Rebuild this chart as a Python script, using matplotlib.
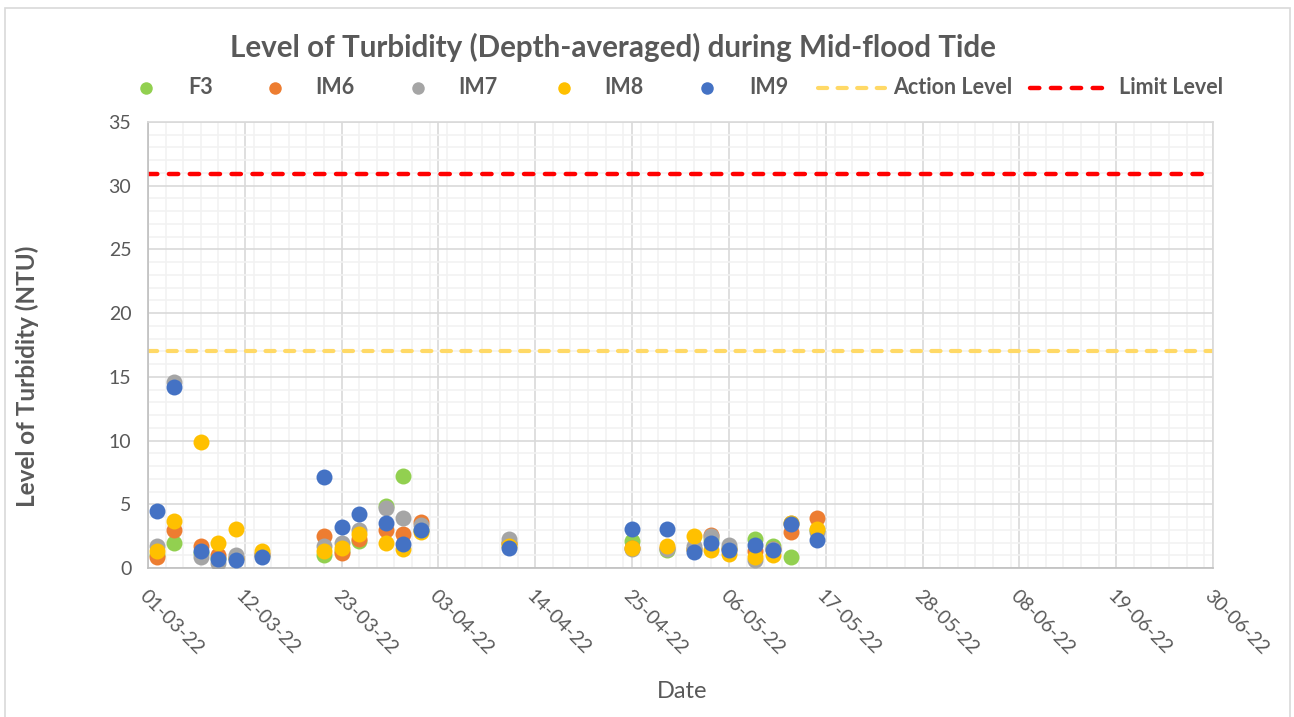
import matplotlib
matplotlib.use("Agg")
import matplotlib.pyplot as plt
import matplotlib.dates as mdates
from matplotlib.lines import Line2D
from matplotlib.patches import Rectangle
import numpy as np
import datetime as dt

plt.rcParams['font.family'] = ['Lato', 'DejaVu Sans']

dates = ["2022-03-02", "2022-03-04", "2022-03-07", "2022-03-09", "2022-03-11", "2022-03-14",
         "2022-03-21", "2022-03-23", "2022-03-25", "2022-03-28", "2022-03-30", "2022-04-01",
         "2022-04-11", "2022-04-25", "2022-04-29", "2022-05-02", "2022-05-04", "2022-05-06",
         "2022-05-09", "2022-05-11", "2022-05-13", "2022-05-16"]
F3  = [1.0, 2.0, 1.2, 0.8, 0.8, 1.0, 1.0, 1.3, 2.1, 4.9, 7.25, 3.0, 2.0, 2.1, 1.4, 1.5, 2.3, 1.6, 2.3, 1.7, 0.9, 3.0]
IM6 = [0.9, 3.0, 1.7, 1.0, 0.8, 1.1, 2.5, 1.2, 2.3, 3.0, 2.7, 3.6, 2.0, 1.6, 1.6, 1.5, 2.6, 1.5, 1.3, 1.5, 2.8, 3.95]
IM7 = [1.7, 14.6, 0.9, 0.4, 1.0, 1.0, 1.75, 2.0, 3.0, 4.7, 3.9, 3.4, 2.3, 1.5, 1.5, 1.7, 2.5, 1.8, 0.63, 1.5, 3.5, 2.8]
IM8 = [1.3, 3.7, 9.85, 2.0, 3.05, 1.3, 1.35, 1.55, 2.7, 2.0, 1.5, 2.8, 1.7, 1.6, 1.75, 2.55, 1.4, 1.1, 0.9, 1.05, 3.55, 3.05]
IM9 = [4.45, 14.2, 1.35, 0.7, 0.6, 0.9, 7.15, 3.25, 4.25, 3.5, 1.85, 2.95, 1.55, 3.05, 3.05, 1.25, 2.0, 1.4, 1.8, 1.4, 3.45, 2.2]
action_level = 17.0
limit_level = 30.9

series_names = ["F3", "IM6", "IM7", "IM8", "IM9"]
series_vals = [F3, IM6, IM7, IM8, IM9]
colors = ["#92D050", "#ED7D31", "#A5A5A5", "#FFC000", "#4472C4"]

title = "Level of Turbidity (Depth-averaged) during Mid-flood Tide"
xlabel = "Date"
ylabel = "Level of Turbidity (NTU)"

x = [dt.datetime.strptime(d, "%Y-%m-%d") for d in dates]
xmin = dt.datetime(2022, 3, 1)
xmax = dt.datetime(2022, 6, 30)

W, H = 1294, 717
fig = plt.figure(figsize=(W / 100, H / 100), dpi=100)
fig.patch.set_facecolor("white")
fig.patches.append(Rectangle((5 / W, -0.02), (1290 - 5) / W, 1.02 - 8 / H,
                             transform=fig.transFigure, fill=False, edgecolor="#D9D9D9", lw=1.2))

L, R, T, B = 148, 1213, 122, 568
ax = fig.add_axes([L / W, 1 - B / H, (R - L) / W, (B - T) / H])

txtc = "#595959"
action_color = "#FFD966"
limit_color = "#FF0000"

for name, vals, c in zip(series_names, series_vals, colors):
    ax.plot(x, vals, linestyle="none", marker="o", markersize=11.5, color=c,
            markeredgewidth=0, zorder=3)

ax.axhline(action_level, color=action_color, lw=3.0, dashes=(2.2, 2.5),
           dash_capstyle="round", zorder=2)
ax.axhline(limit_level, color=limit_color, lw=3.2, dashes=(2.1, 2.6),
           dash_capstyle="round", zorder=2)

ax.set_xlim(xmin, xmax)
ax.set_ylim(0, 35)
ticks = [xmin + dt.timedelta(days=11 * i) for i in range(12)]
ax.set_xticks(ticks)
ax.set_xticks([xmin + dt.timedelta(days=2 * i) for i in range(61)], minor=True)
ax.xaxis.set_major_formatter(mdates.DateFormatter("%d-%m-%y"))
ax.set_yticks(np.arange(0, 36, 5))
ax.set_yticks(np.arange(0, 36, 1), minor=True)

ax.grid(which="major", color="#D9D9D9", lw=1.2, zorder=0)
ax.grid(which="minor", color="#F2F2F2", lw=1.2, zorder=0)
ax.set_axisbelow(True)
for s in ax.spines.values():
    s.set_color("#D9D9D9")
    s.set_linewidth(1.2)
ax.spines["left"].set_color("#BFBFBF")
ax.spines["bottom"].set_color("#BFBFBF")

ax.tick_params(which="both", length=0)
ax.tick_params(axis="y", labelsize=14, labelcolor=txtc, pad=12)
ax.tick_params(axis="x", labelsize=14, labelcolor=txtc, pad=14)
for lab in ax.get_xticklabels():
    lab.set_rotation(-45)
    lab.set_ha("left")
    lab.set_va("top")
    lab.set_rotation_mode("anchor")

fig.text(613 / W, 1 - 47 / H, title, ha="center", va="center", fontsize=21.3,
         fontweight="bold", color=txtc)
fig.text(682 / W, 1 - 691 / H, xlabel, ha="center", va="center", fontsize=17, color=txtc)
fig.text(27 / W, 1 - 376 / H, ylabel, ha="center", va="center", rotation=90, fontsize=17.5,
         fontweight="bold", color=txtc)

# legend (manual placement)
ly = 1 - 88 / H
marker_x = [145.5, 274.6, 417.7, 563.7, 707]
text_x = [188.5, 315.5, 458, 604, 749]
for mx, tx, name, c in zip(marker_x, text_x, series_names, colors):
    fig.add_artist(Line2D([mx / W], [ly], marker="o", markersize=9, color=c,
                          markeredgewidth=0, linestyle="none", transform=fig.transFigure))
    fig.text(tx / W, ly, name, ha="left", va="center", fontsize=15.5, fontweight="bold", color=txtc)
fig.add_artist(Line2D([818 / W, 885 / W], [ly, ly], color=action_color, lw=3.0, dashes=(2.2, 2.5),
                      dash_capstyle="round", transform=fig.transFigure))
fig.text(893 / W, ly, "Action Level", ha="left", va="center", fontsize=15.5, fontweight="bold", color=txtc)
fig.add_artist(Line2D([1030 / W, 1113 / W], [ly, ly], color=limit_color, lw=3.2, dashes=(2.1, 2.6),
                      dash_capstyle="round", transform=fig.transFigure))
fig.text(1119 / W, ly, "Limit Level", ha="left", va="center", fontsize=15.5, fontweight="bold", color=txtc)

fig.savefig("out.png", dpi=100)
